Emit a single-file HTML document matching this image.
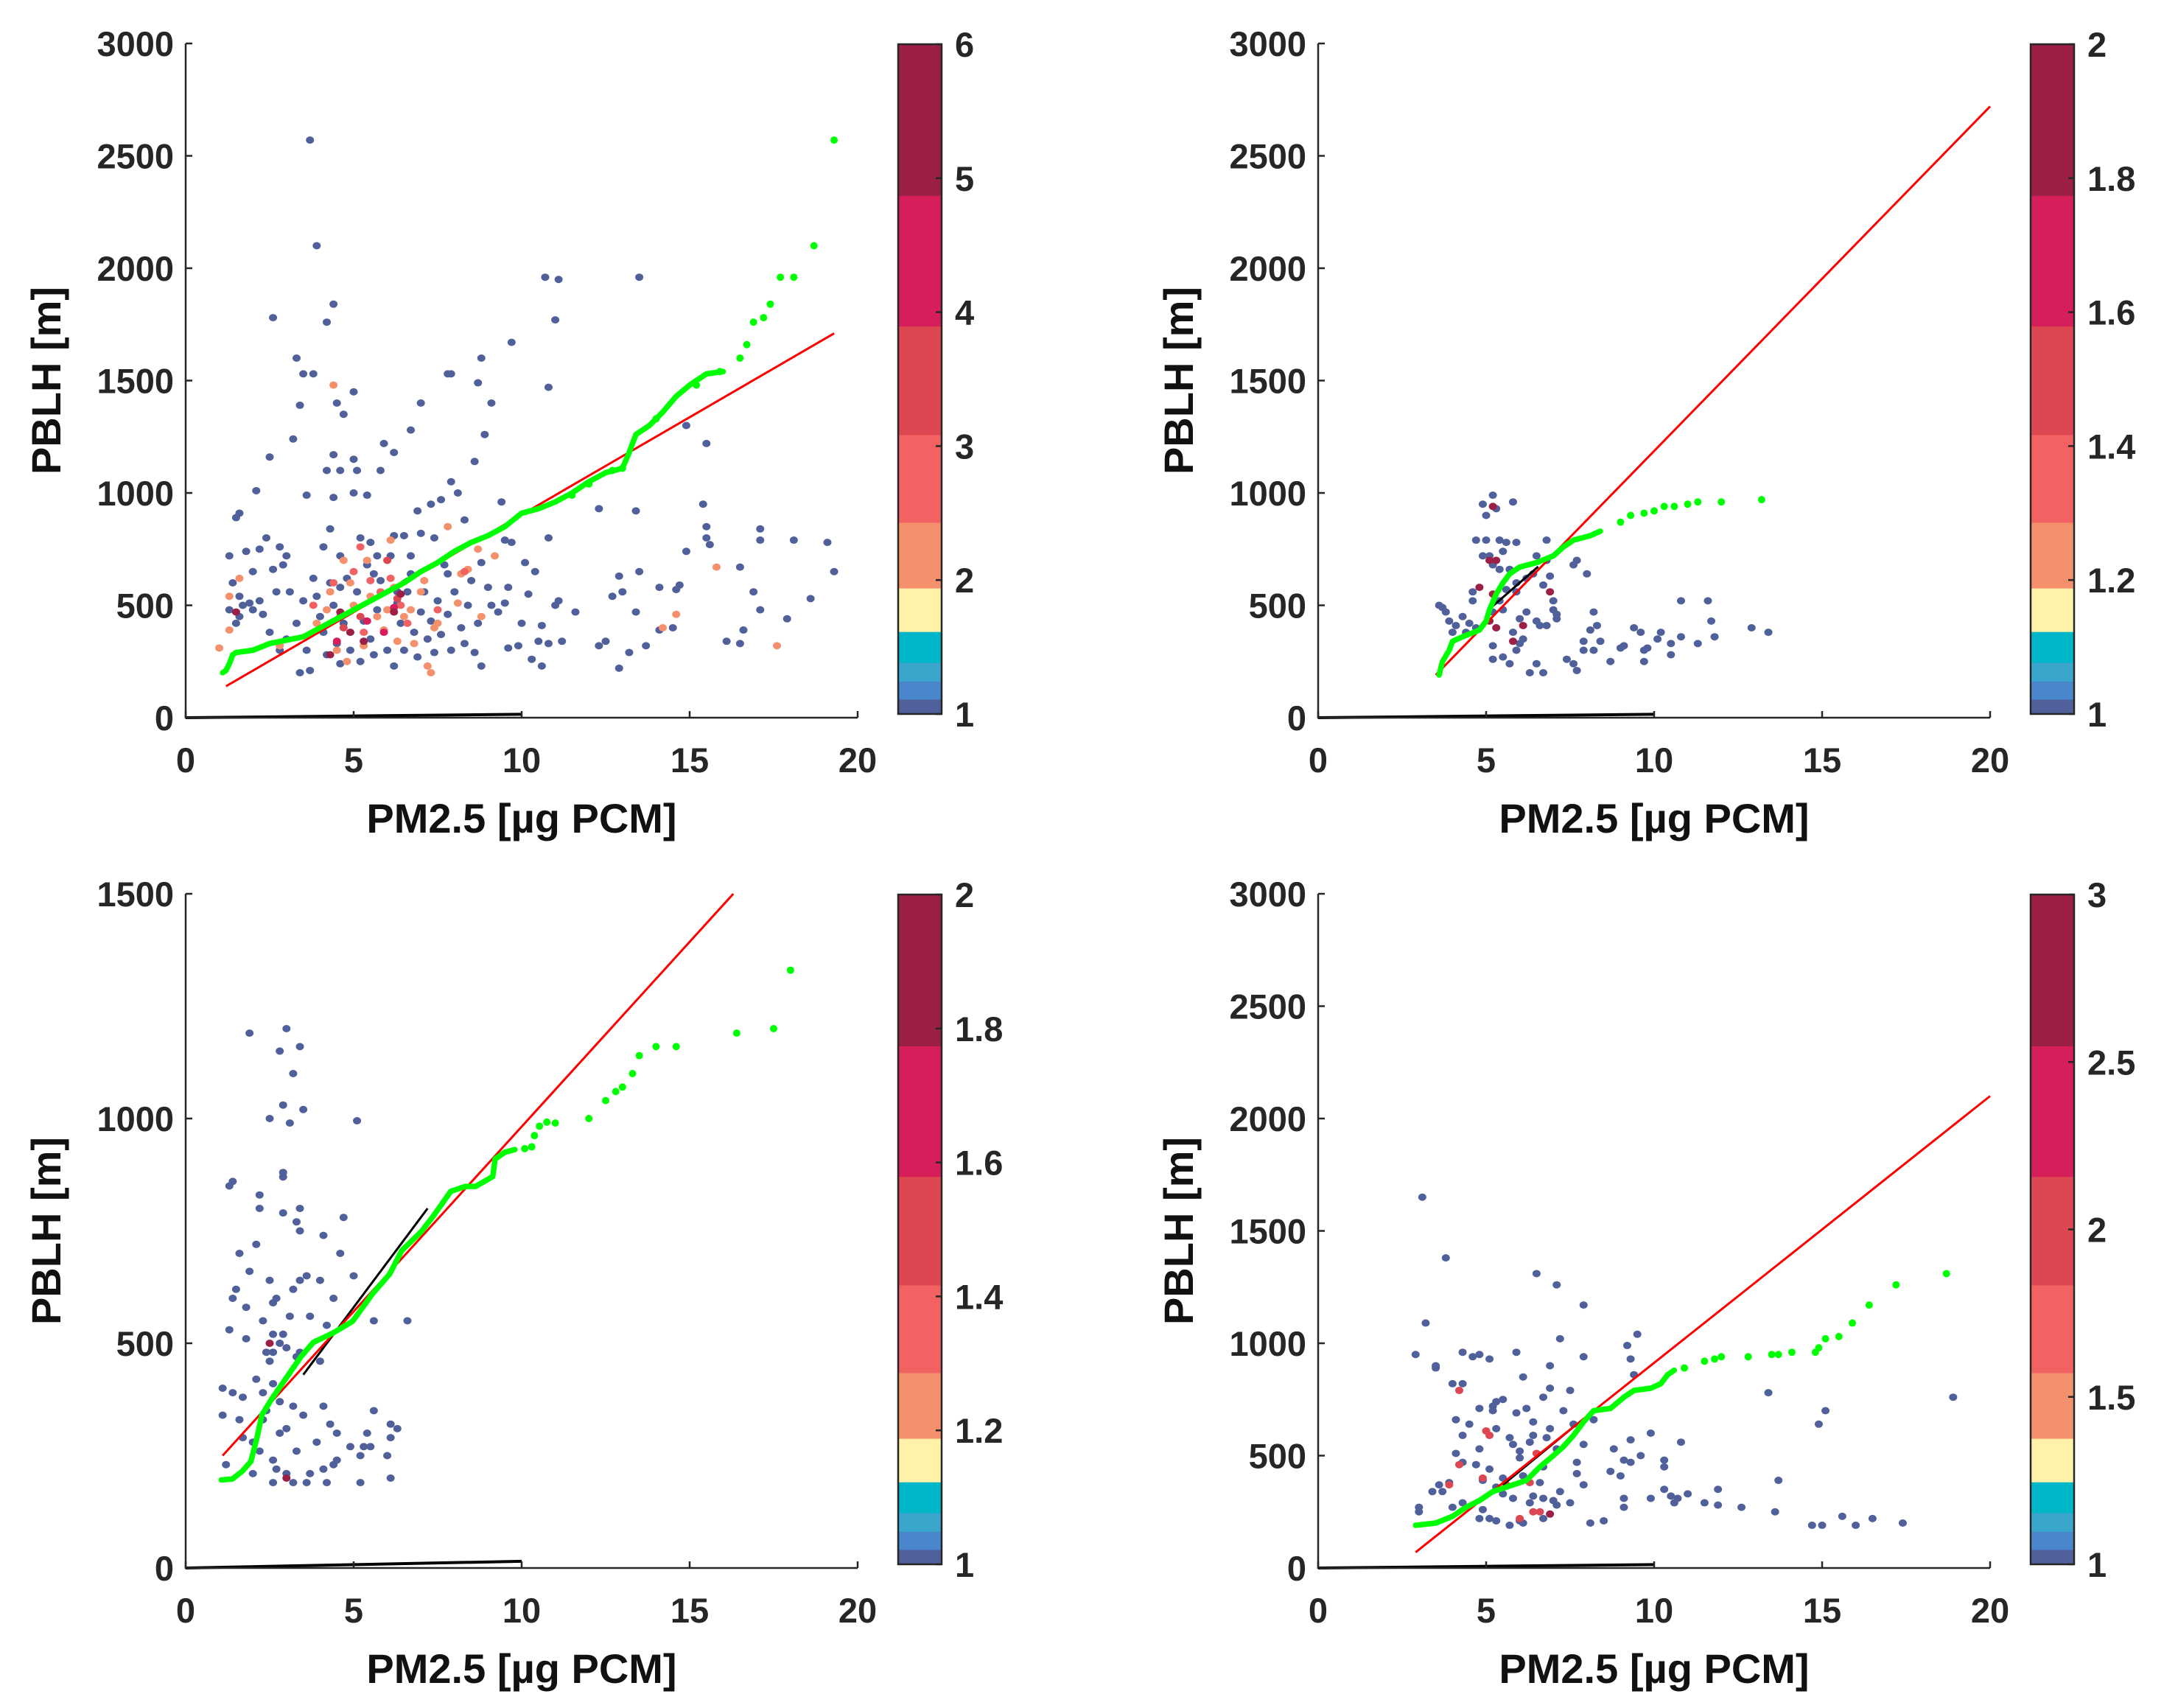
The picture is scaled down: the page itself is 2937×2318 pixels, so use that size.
<!DOCTYPE html>
<html><head><meta charset="utf-8">
<style>
html,body{margin:0;padding:0;background:#fff;}
svg{display:block;font-family:"Liberation Sans",Arial,sans-serif;}
</style></head>
<body>
<svg id="fig" width="2937" height="2318" viewBox="0 0 2937 2318" xmlns="http://www.w3.org/2000/svg"></svg>
<script>
// ---------- DATA ----------
const xTicks = [0,5,10,15,20];
const yTicksA = [0,500,1000,1500,2000,2500,3000];
const yTicksB = [0,500,1000,1500];
const cbTicksTL = [1,2,3,4,5,6];
const cbTicksTR = [1,1.2,1.4,1.6,1.8,2];
const cbTicksBL = [1,1.2,1.4,1.6,1.8,2];
const cbTicksBR = [1,1.5,2,2.5,3];

// top-left scatter: value-1 points
const tlBlueX = [3.7,3.9,2.6,4.4,4.2,3.3,3.5,3.8,3.4,4.5,4.7,5,3.2,2.5,4.4,5,4.6,5.1,4.2,5.9,6.2,6.7,7,5.8,7.8,7.9,8.7,8.8,8.9,9.1,9.7,10.7,11.1,11,10.8,13.5,8.6,7.9,8.1,7.6,7.3,6.9,5.4,5,3.6,2.1,1.5,1.6,1.3,1.4,1.6,1.8,2.4,2.2,2.8,2,2.6,3,2.9,4.4,4.3,4.1,4.6,5.2,5.5,5.7,6.2,6.5,7,6.7,7.4,7.8,8.3,8.8,9.4,9.5,9.7,10.1,10.4,11,11.1,11.6,10.8,10.2,10,10.6,9.9,9.6,10.3,10.6,10.5,10.8,11.2,12.3,12.3,12.5,12.7,12.9,13,12.9,13.2,13.4,13.4,13.5,13.7,14.1,14.1,14.5,14.6,14.7,14.9,15.4,15.5,15.5,15.6,15.5,14.9,16.1,16.5,16.5,16.6,16.9,17.1,17.1,17.1,17.9,18.1,18.6,19.1,19.3,1.3,1.5,1.7,2,2.3,2.5,2.8,3,3.3,3.4,3.7,3.6,3.9,4,4.1,4.2,4.3,4.4,4.5,4.6,4.7,4.8,4.9,5.1,5.2,5.3,5.4,5.5,5.6,5.7,5.8,5.9,6,6.2,6.3,6.4,6.5,6.6,6.7,6.8,6.9,7,7.1,7.2,7.3,7.4,7.5,7.6,7.8,7.9,8,8.2,8.3,8.4,8.6,8.7,8.8,9,9.1,9.3,9.5,9.6,3.1,3.5,2.7,2.2,1.9,1.6,3.8,4.6,5.6,6.1,6.3,7.7,8.5];
const tlBlueY = [2570,2100,1780,1840,1760,1600,1530,1530,1390,1400,1350,1450,1240,1160,1170,1150,1100,1100,1100,1220,1180,1280,1400,1100,1530,1530,1490,1600,1260,1400,1670,1960,1950,1770,1470,1960,1140,1050,1000,970,950,920,990,1000,990,1010,890,910,720,600,540,740,800,750,760,650,660,720,680,980,840,760,720,800,780,720,810,810,820,720,800,640,880,690,960,790,780,690,650,500,520,470,800,550,420,410,320,310,260,230,340,330,340,930,320,340,540,630,560,220,290,920,470,650,320,580,390,400,570,590,1300,950,1220,850,770,800,740,340,330,670,390,560,480,840,790,440,790,530,780,650,480,420,500,480,460,380,300,350,420,200,210,300,540,450,380,280,600,500,330,240,420,620,300,560,250,430,680,350,280,480,610,390,300,230,510,420,300,560,640,380,270,470,560,350,430,290,520,370,460,300,560,400,330,500,290,420,230,580,500,470,510,580,560,520,560,520,510,450,620,580,640,720,560,680,610];
const tlColX = [4.4,7.8,15.8,17.6,14.6,14.2,1.3,1.6,1,7.4,7.3,7.2,6.1,8.7,9.2,8.4,4.5,4.8,5.3,5.9,6.5,7,6.7,5.5,4.2,4.9,3.9,5,6.3,7.1,8.8,8.1,2.8,1.3,4.7,5.4,6,6.8,5.7,4.3,8.2,7.5,6.2,5.2,5.5,5.8,6.1,4.4,4.6,5,6.4,7.5,8.3,6.6,5.3,3.8,4.7,5.2,6,6.3,4.5,5.9,6.2,5.4,1.5,4.3,5.3,4.6,6.2,6.4,4.9];
const tlColY = [1480,850,670,320,460,400,540,620,310,400,200,230,790,750,720,660,300,250,320,390,450,560,480,540,480,600,420,500,340,610,450,510,320,390,700,700,480,330,450,560,640,420,580,760,610,560,620,600,450,650,500,480,650,420,380,500,400,450,700,530,340,380,490,430,470,280,340,470,470,550,380];
const tlColV = [2,2,2,2,2,2,2,2,2,2,2,2,2,2,2,2,2,2,2,2,2,2,2,2,2,2,2,2,2,2,2,2,2,2,2,2,2,2,2,2,2,2,2,3,3,3,3,3,3,3,3,3,3,3,3,3,3.5,3.5,3.5,3.5,4.5,4.5,4.5,4.5,5.5,5.5,5.5,5.5,5.5,5.5,5.5];
const tlGreenX = [1.1,1.2,1.3,1.4,1.5,2,2.5,3,3.5,4,4.5,5,5.5,6,6.5,7,7.5,8,8.5,9,9.5,10,10.5,11,11.5,12,12.5,13,13.2,13.4,13.8,14.2,14.6,15,15.5,16];
const tlGreenY = [200,210,240,280,290,300,330,345,360,400,440,480,520,560,600,650,690,740,780,810,850,910,930,960,1000,1050,1090,1110,1180,1260,1300,1360,1430,1480,1530,1540];
const tlDotX = [11.5,12,12.7,13,14,15.2,15.9,16.5,16.7,16.9,17.2,17.4,17.7,18.1,18.7,19.3];
const tlDotY = [990,1040,1100,1110,1330,1480,1540,1600,1660,1760,1780,1840,1960,1960,2100,2570];
const tlFitX = [1.2,19.3];
const tlFitY = [140,1710];
const tlBlackX = [5.6,6.6];
const tlBlackY = [520,620];

// top-right
const trBlueX = [5.2,5.8,4.9,5.3,5.0,4.7,5,5.4,5.6,5.9,4.9,6.8,5.2,5.4,5.7,6.5,6.8,5.9,6.4,7.7,7.6,8,4.6,5.6,4.6,5.4,5.5,7,7.1,4,4.4,4.7,3.6,3.7,3.8,3.9,4.1,4.3,4.5,6,6.2,6.6,7.1,7,8.2,8.3,8.1,6.5,6.8,5.8,6.1,6,5.9,5.2,5.5,5.7,5.2,7.9,7.9,8.2,9.4,9.8,10.1,10.2,10.5,10.8,11.3,11.8,11.7,9,8.7,9.1,9.7,7.4,7.6,7.7,9.7,8.4,10.5,6.3,6.7,6.5,5.2,5.9,6.2,10.8,11.6,12.9,13.4,9.6,5.5,5.1,6.9,6.7];
const trBlueY = [990,960,950,930,900,790,790,790,780,780,720,790,680,660,660,720,700,600,640,700,680,640,560,570,520,520,480,480,460,380,380,400,500,490,470,430,410,450,420,440,470,410,440,520,470,410,390,430,410,380,350,330,300,260,270,240,320,340,300,300,400,310,350,380,330,360,330,360,430,310,250,320,300,260,240,210,250,340,280,200,200,240,470,560,620,520,520,400,380,380,740,720,630,590];
const trColX = [5.2,5.1,5.3,4.8,5.2,6.9,5.1,5.3,6.1,5.8];
const trColY = [940,700,700,580,550,560,430,400,410,340];
const trColV = [1.9,1.9,1.9,1.9,1.9,1.9,1.9,1.9,1.9,1.9];
const trGreenX = [3.6,3.7,3.9,4,4.3,4.8,5,5.1,5.3,5.5,5.7,6,6.5,7,7.3,7.6,8.1,8.4];
const trGreenY = [190,250,300,340,360,390,430,480,550,600,640,670,690,720,760,790,810,830];
const trDotX = [9,9.3,9.7,10,10.3,10.6,11,11.3,12,13.2];
const trDotY = [870,900,910,920,940,940,950,960,960,970];
const trFitX = [3.5,20];
const trFitY = [190,2720];
const trBlackX = [5.04,6.55];
const trBlackY = [476,672];

// bottom-left
const blBlueX = [1.9,3,2.8,3.4,3.2,2.9,3.5,2.5,3.1,5.1,2.9,2.9,1.4,1.3,2.2,2.9,3.4,3.3,2.2,3.4,4.1,4.7,2.1,4.6,5,1.9,2.5,3.4,1.5,3.6,4,2.7,3.1,4.4,1.4,1.8,2.6,2.3,4.2,3.7,5.6,1.3,2.6,2.9,1.8,2.4,3,3.4,2.8,3.3,4,2.1,2.5,2.6,1.1,1.4,1.7,2.3,2.8,4.1,4.3,1.6,2.3,2.4,3.2,3.5,4.5,5.4,1.1,3,2,2.8,4.9,1.2,2.2,3.3,3.9,2.6,2,3,4.5,1.7,5.6,6.1,6.3,6.1,6,4.4,4.1,3.7,5.3,5.2,5.5,6.1,2.6,3.2,3.6,4.2,5.2,2.7,6.6,3.2,1.6,2.6];
const blBlueY = [1190,1200,1150,1160,1100,1030,1020,1000,990,995,880,870,860,850,830,790,800,770,800,750,740,780,720,700,650,660,640,640,620,650,640,600,560,600,600,580,590,550,540,560,550,530,520,520,510,480,490,480,500,470,460,420,460,410,400,390,380,390,370,360,320,330,330,350,360,340,300,300,340,310,280,300,270,230,260,260,280,240,210,210,240,290,350,320,310,290,250,230,220,210,270,250,270,200,190,190,190,190,190,220,550,620,700,480];
const blColX = [2.5,3];
const blColY = [500,200];
const blColV = [1.9,1.9];
const blGreenX = [1.06,1.39,1.68,1.94,2.12,2.27,2.56,2.92,3.44,3.8,4.39,4.97,5.56,6.07,6.43,7.02,7.38,7.89,8.33,8.63,9.14,9.21,9.5,9.8];
const blGreenY = [196,198,215,237,289,341,376,415,471,502,523,549,610,654,706,749,784,838,849,849,871,910,925,931];
const blDotX = [10.09,10.3,10.38,10.53,10.75,11,12,12.5,12.8,13,13.3,13.5,14,14.6,16.4,17.5,18];
const blDotY = [933,937,962,983,992,990,1000,1040,1060,1070,1100,1140,1160,1160,1190,1200,1330];
const blFitX = [1.1,16.3];
const blFitY = [250,1500];
const blBlackX = [3.5,7.2];
const blBlackY = [430,800];

// bottom-right
const brBlueX = [3.1,3.8,3.2,6.5,7.1,7.9,7.2,3.5,3.5,2.9,4.3,4.6,4.8,5.1,5.9,6.9,9.5,9.2,9.3,7.9,4,4.3,6.1,6.9,7.5,9.4,5.3,5.5,5.2,5.2,4.8,6.2,6.7,7.3,4.1,4.5,5.3,6.4,6.9,5.9,4.3,6.4,6.3,6,4.8,4.7,4.3,4.1,5.1,5.8,6,6.8,7.1,7.6,8.2,7.9,8.8,9.6,9.1,9.9,9.3,9.3,10.3,10.3,10.8,7.7,7.7,7.9,6.7,6.1,6.6,5.5,5.3,4.9,3.6,3.7,3.9,3.4,4,3,3,4.3,4.9,5.1,5.3,4.8,5.5,5.8,6.3,6.4,6.7,7.2,7.1,7.5,8.1,8.5,6,6.1,5.7,9,9.1,9.1,9.9,10.3,10.5,10.6,10.7,11,11.5,11.9,11.9,12.6,13.4,13.6,13.7,14.9,15.1,14.7,15,15.6,16,16.5,17.4,18.9,6.7,7,8.7,5.7];
const brBlueY = [1650,1380,1090,1310,1260,1170,1020,900,890,950,960,940,950,930,960,900,1040,990,930,940,820,820,850,800,790,860,740,750,720,700,710,710,760,700,660,640,620,650,620,690,590,590,560,520,530,460,470,510,440,550,490,580,530,640,660,550,530,500,480,600,570,470,480,450,560,470,420,370,450,410,380,400,360,390,370,340,380,340,270,270,250,290,260,220,210,220,330,310,290,320,310,340,280,290,200,210,210,200,190,410,310,270,310,350,320,290,310,330,290,280,350,270,780,250,390,640,700,190,190,230,190,220,200,760,220,300,430,580];
const brColX = [4.2,5,5.1,4.2,3.9,4.9,5.6,6.3,6.5,6.4,6.6,6,6.9];
const brColY = [790,610,590,460,370,400,370,380,510,250,250,220,240];
const brColV = [2,2,2,2,2,2,2,2,2,2,2,2,2.9];
const brGreenX = [2.9,3.5,4,4.4,4.8,5.2,5.6,6.2,6.6,7,7.3,7.6,7.9,8.2,8.7,9.1,9.4,9.9,10.2,10.4,10.6];
const brGreenY = [190,200,230,270,300,340,360,390,450,500,540,590,650,700,710,760,790,800,820,860,880];
const brDotX = [10.9,11.5,11.8,12,12.8,13.5,13.7,14.1,14.8,14.9,15.1,15.5,15.9,16.4,17.2,18.7];
const brDotY = [890,920,930,940,940,950,950,960,960,980,1020,1030,1090,1170,1260,1310];
const brFitX = [2.9,20];
const brFitY = [70,2100];
const brBlackX = [5.5,7.7];
const brBlackY = [370,640];

// baseline black line (0,0)-(10,~15)
const baseX = [0,10];
const baseY = [0,15];

// colormap segments (bottom to top): cumulative fraction tops
const cmapColors = ['#50609a','#4a86cc','#3aa6cb','#00b7c9','#fff2a8','#f5906c','#f26262','#dd4751','#d61f5a','#9c1f45'];
const cmapStops  = [0.022,0.049,0.077,0.123,0.188,0.286,0.417,0.579,0.774,1.0];

// ---------- DRAWING ----------
const NS='http://www.w3.org/2000/svg';
const svg=document.getElementById('fig');
function mk(tag,attrs,parent){const e=document.createElementNS(NS,tag);for(const k in attrs)e.setAttribute(k,attrs[k]);(parent||svg).appendChild(e);return e;}

const PW=912, PH=915;
function cmap(frac){for(let i=0;i<cmapStops.length;i++){if(frac<=cmapStops[i])return cmapColors[i];}return cmapColors[cmapColors.length-1];}

function drawPanel(name,ox,oy,ymax,yTicks,cbTicks,cbMax,bX,bY,cX,cY,cV,gX,gY,dX,dY,fX,fY,kX,kY){
  const g=mk('g',{});
  
  
  const sx=v=>ox+v/20*PW;
  const sy=v=>oy+PH-v/ymax*PH;
  const sg=mk('g',{},g);
  
  
  for(let i=0;i<bX.length;i++){
    const c=mk('ellipse',{cx:sx(bX[i]),cy:sy(bY[i]),rx:5.5,ry:5,fill:cmapColors[0]},sg);
    
    
  }
  for(let i=0;i<cX.length;i++){
    const c=mk('ellipse',{cx:sx(cX[i]),cy:sy(cY[i]),rx:5.5,ry:5,fill:cmap((cV[i]-1)/(cbMax-1))},sg);
    
    
  }
  const bl=mk('line',{x1:sx(baseX[0]),y1:sy(baseY[0]),x2:sx(baseX[1]),y2:sy(baseY[1]),stroke:'#000','stroke-width':4},g);
  
  
  const kl=mk('line',{x1:sx(kX[0]),y1:sy(kY[0]),x2:sx(kX[1]),y2:sy(kY[1]),stroke:'#000','stroke-width':3},g);
  
  
  const rl=mk('line',{x1:sx(fX[0]),y1:sy(fY[0]),x2:sx(fX[1]),y2:sy(fY[1]),stroke:'#ff0000','stroke-width':3},g);
  
  
  let d='';
  for(let i=0;i<gX.length;i++)d+=(i?'L':'M')+sx(gX[i])+' '+sy(gY[i]);
  const gp=mk('path',{d:d,fill:'none',stroke:'#00ff00','stroke-width':7.5,'stroke-linecap':'round','stroke-linejoin':'round'},g);
  
  
  for(let i=0;i<dX.length;i++){
    const c=mk('ellipse',{cx:sx(dX[i]),cy:sy(dY[i]),rx:5,ry:5,fill:'#00ff00'},g);
    
    
  }
  const ax=mk('path',{d:`M${ox} ${oy}V${oy+PH}H${ox+PW}`,fill:'none',stroke:'#262626','stroke-width':2.5},g);
  
  
  xTicks.forEach(v=>{
    mk('line',{x1:sx(v),y1:oy+PH,x2:sx(v),y2:oy+PH-9,stroke:'#262626','stroke-width':2.5},g);
    const t=mk('text',{x:sx(v),y:oy+PH+74,'text-anchor':'middle','font-size':47,'font-weight':'bold',fill:'#262626'},g);
    t.textContent=v;
    
    
  });
  yTicks.forEach(v=>{
    mk('line',{x1:ox,y1:sy(v),x2:ox+9,y2:sy(v),stroke:'#262626','stroke-width':2.5},g);
    const t=mk('text',{x:ox-16,y:sy(v)+17,'text-anchor':'end','font-size':47,'font-weight':'bold',fill:'#262626'},g);
    t.textContent=v;
    
    
  });
  const xt=mk('text',{x:ox+PW/2,y:oy+PH+156,'text-anchor':'middle','font-size':56,'font-weight':'bold',fill:'#111'},g);
  xt.textContent='PM2.5 [µg PCM]';
  
  
  const yx=ox-170, yy=oy+PH/2;
  const yt=mk('text',{x:yx,y:yy,'text-anchor':'middle','font-size':56,'font-weight':'bold',fill:'#111',transform:`rotate(-90 ${yx} ${yy})`},g);
  yt.textContent='PBLH [m]';
  
  
  const cbx=ox+967, cbw=59, cbt=oy+1, cbb=oy+PH-5, cbh=cbb-cbt;
  const cg=mk('g',{},g);
  
  
  let prev=0;
  for(let i=0;i<cmapStops.length;i++){
    const y1=cbb-cmapStops[i]*cbh, y0=cbb-prev*cbh;
    mk('rect',{x:cbx,y:y1,width:cbw,height:y0-y1+0.5,fill:cmapColors[i]},cg);
    prev=cmapStops[i];
  }
  mk('rect',{x:cbx,y:cbt,width:cbw,height:cbh,fill:'none',stroke:'#262626','stroke-width':2.5},cg);
  cbTicks.forEach(v=>{
    const y=cbb-(v-1)/(cbMax-1)*cbh;
    mk('line',{x1:cbx+cbw,y1:y,x2:cbx+cbw-8,y2:y,stroke:'#262626','stroke-width':2.5},cg);
    const t=mk('text',{x:cbx+cbw+18,y:y+17,'font-size':47,'font-weight':'bold',fill:'#262626'},cg);
    t.textContent=v;
    
    
  });
}

drawPanel('panel-top-left',252,59,3000,yTicksA,cbTicksTL,6,tlBlueX,tlBlueY,tlColX,tlColY,tlColV,tlGreenX,tlGreenY,tlDotX,tlDotY,tlFitX,tlFitY,tlBlackX,tlBlackY);
drawPanel('panel-top-right',1789,59,3000,yTicksA,cbTicksTR,2,trBlueX,trBlueY,trColX,trColY,trColV,trGreenX,trGreenY,trDotX,trDotY,trFitX,trFitY,trBlackX,trBlackY);
drawPanel('panel-bottom-left',252,1213,1500,yTicksB,cbTicksBL,2,blBlueX,blBlueY,blColX,blColY,blColV,blGreenX,blGreenY,blDotX,blDotY,blFitX,blFitY,blBlackX,blBlackY);
drawPanel('panel-bottom-right',1789,1213,3000,yTicksA,cbTicksBR,3,brBlueX,brBlueY,brColX,brColY,brColV,brGreenX,brGreenY,brDotX,brDotY,brFitX,brFitY,brBlackX,brBlackY);
</script>
</body></html>
